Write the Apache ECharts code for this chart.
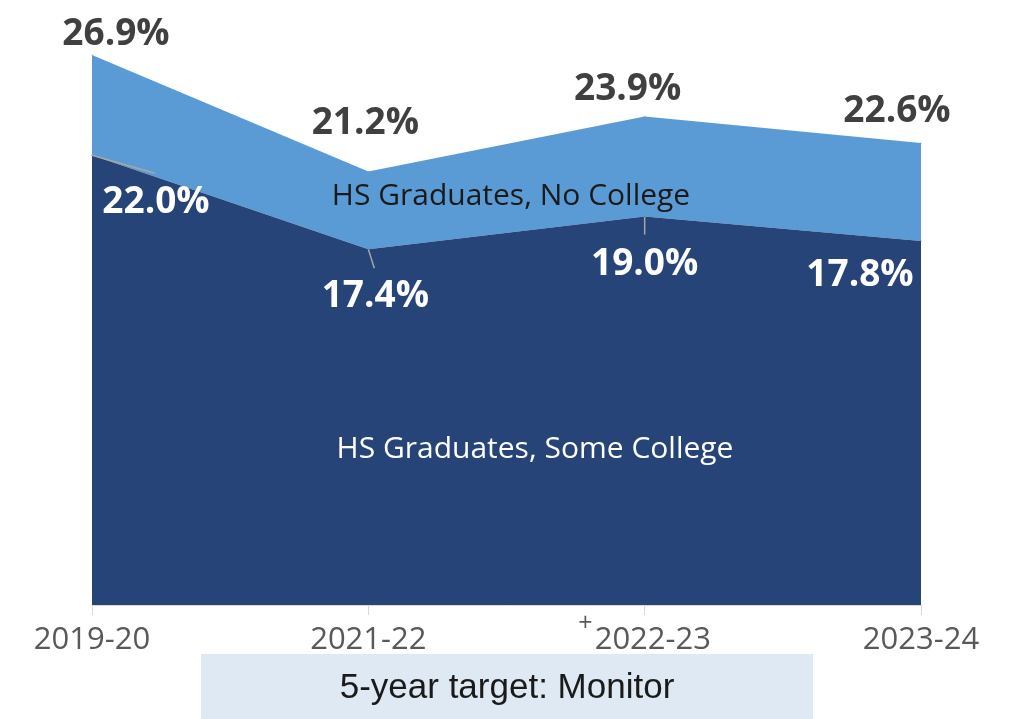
<!DOCTYPE html>
<html>
<head>
<meta charset="utf-8">
<script src="https://cdn.jsdelivr.net/npm/echarts@6/dist/echarts.min.js"></script>
<style>
html,body{margin:0;padding:0;background:#fff;}
#chart{width:1013px;height:719px;}
</style>
</head>
<body>
<div id="chart"></div>
<script>
// ---- data ----
var categories = ['2019-20', '2021-22', '2022-23', '2023-24'];
var categoryMarks = ['', '', '+', ''];
var someCollege = [22.0, 17.4, 19.0, 17.8];      // HS Graduates, Some College
var totalRate = [26.9, 21.2, 23.9, 22.6];        // total (Some College + No College)
var noCollege = totalRate.map(function (t, i) { return +(t - someCollege[i]).toFixed(1); });
var seriesNames = ['HS Graduates, Some College', 'HS Graduates, No College'];
var targetText = '5-year target: Monitor';

// ---- label placement (layout only) ----
var topOffsets = [[24, 3], [-3, -24], [-17, -3], [-24, -8]];
var bottomOffsets = [[64, 23], [7, 23], [0, 24], [-61, 10]];
var leaderEnds = [[63, 18], [6, 19], [0, 18], null];

var chart = echarts.init(document.getElementById('chart'), null, {renderer: 'canvas'});

var valueFont = {fontFamily: 'Open Sans', fontWeight: 'bold', fontSize: 37};

var option = {
  animation: false,
  backgroundColor: '#ffffff',
  grid: {left: 92, right: 92, top: 32.6, bottom: 114, containLabel: false},
  xAxis: {
    type: 'category',
    data: categories,
    boundaryGap: false,
    axisLine: {show: true, lineStyle: {color: '#d9d9d9', width: 1}},
    axisTick: {show: true, length: 10, interval: 0, lineStyle: {color: '#d9d9d9'}},
    axisLabel: {
      interval: 0,
      hideOverlap: false,
      margin: 6,
      color: '#595959',
      fontFamily: 'Open Sans',
      fontSize: 31,
      formatter: function (v, i) {
        return (categoryMarks[i] ? '{sup|' + categoryMarks[i] + '}' : '') + '{n|' + v + '}';
      },
      rich: {
        n: {fontSize: 31, fontFamily: 'Open Sans', color: '#595959', lineHeight: 58, verticalAlign: 'middle'},
        sup: {fontSize: 25, fontFamily: 'Open Sans', color: '#595959', verticalAlign: 'top', padding: [0, 2, 0, 0]}
      }
    }
  },
  yAxis: {
    type: 'value',
    min: 0,
    max: 28,
    show: false,
    splitLine: {show: false}
  },
  series: [
    {
      name: seriesNames[0],
      type: 'line',
      stack: 'total',
      symbol: 'circle',
      symbolSize: 1,
      showSymbol: true,
      itemStyle: {color: '#264478'},
      lineStyle: {width: 0},
      areaStyle: {color: '#264478', opacity: 1},
      z: 2,
      data: someCollege.map(function (v, i) {
        return {value: v, label: {offset: bottomOffsets[i]}};
      }),
      label: Object.assign({
        show: true,
        position: 'bottom',
        distance: 5,
        color: '#ffffff',
        formatter: function (p) { return p.value.toFixed(1) + '%'; }
      }, valueFont)
    },
    {
      name: seriesNames[1],
      type: 'line',
      stack: 'total',
      symbol: 'circle',
      symbolSize: 1,
      showSymbol: true,
      itemStyle: {color: '#5b9bd5'},
      lineStyle: {width: 0},
      areaStyle: {color: '#5b9bd5', opacity: 1},
      z: 1,
      data: noCollege.map(function (v, i) {
        return {value: v, label: {offset: topOffsets[i]}};
      }),
      label: Object.assign({
        show: true,
        position: 'top',
        distance: 5,
        color: '#404040',
        formatter: function (p) { return totalRate[p.dataIndex].toFixed(1) + '%'; }
      }, valueFont)
    }
  ],
  graphic: [
    {
      type: 'text',
      style: {
        text: seriesNames[1],
        fill: '#1a1a1a',
        font: '30px "Open Sans"',
        textAlign: 'center',
        textVerticalAlign: 'middle'
      },
      x: 511, y: 196,
      z: 10
    },
    {
      type: 'text',
      style: {
        text: seriesNames[0],
        fill: '#ffffff',
        font: '30px "Open Sans"',
        textAlign: 'center',
        textVerticalAlign: 'middle'
      },
      x: 535, y: 449,
      z: 10
    },
    {
      type: 'rect',
      shape: {x: 201, y: 654, width: 612, height: 65},
      style: {fill: '#dee9f3'},
      z: 5
    },
    {
      type: 'text',
      style: {
        text: targetText,
        fill: '#1a1a1a',
        font: '35px "Liberation Sans"',
        textAlign: 'center',
        textVerticalAlign: 'middle'
      },
      x: 507, y: 688,
      z: 6
    }
  ]
};

chart.setOption(option);

// leader lines from each data point (via the library's scales) to its label
var leaders = [];
someCollege.forEach(function (v, i) {
  if (!leaderEnds[i]) return;
  var pt = chart.convertToPixel({seriesIndex: 0}, [i, v]);
  leaders.push({
    type: 'line',
    shape: {x1: pt[0], y1: pt[1], x2: pt[0] + leaderEnds[i][0], y2: pt[1] + leaderEnds[i][1]},
    style: {stroke: '#a6a6a6', lineWidth: 1.5},
    z: 20
  });
});
chart.setOption({graphic: option.graphic.concat(leaders)});
</script>
</body>
</html>
